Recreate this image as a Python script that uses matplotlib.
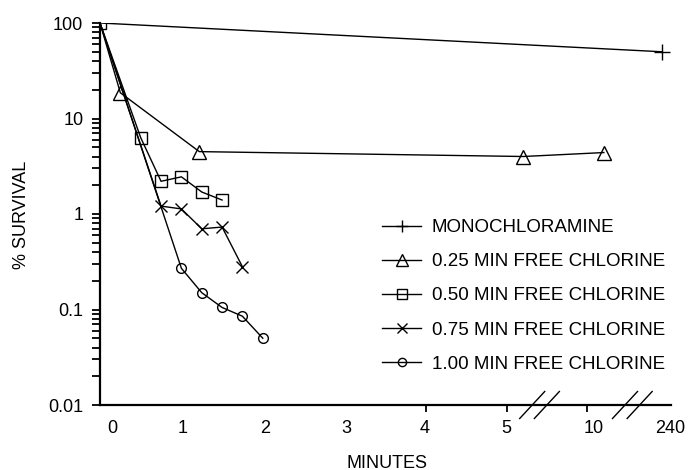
import numpy as np
import matplotlib.pyplot as plt
from matplotlib.ticker import LogLocator, NullFormatter, FixedLocator

plt.rcParams['font.family'] = ['Liberation Sans', 'DejaVu Sans']

# x values are positions on the broken time axis (0-5 linear minutes, then breaks)
mono_x = [0, 6.9]
mono_y = [100, 50]
c25_x = [0, 0.25, 1.22, 5.2, 6.19]
c25_y = [100, 18.6, 4.5, 4.0, 4.4]
c50_x = [0, 0.5, 0.75, 1.0, 1.25, 1.5]
c50_y = [100, 6.3, 2.2, 2.45, 1.7, 1.4]
c75_x = [0, 0.75, 1.0, 1.25, 1.5, 1.75]
c75_y = [100, 1.21, 1.13, 0.70, 0.73, 0.28]
c100_x = [0, 1.0, 1.25, 1.5, 1.75, 2.0]
c100_y = [100, 0.27, 0.15, 0.105, 0.085, 0.05]

labels = ['MONOCHLORAMINE', '0.25 MIN FREE CHLORINE', '0.50 MIN FREE CHLORINE',
          '0.75 MIN FREE CHLORINE', '1.00 MIN FREE CHLORINE']

xlabel_pos = [0.15, 1.02, 2.03, 3.03, 3.99, 4.99, 6.06, 7.01]
xlabel_txt = ['0', '1', '2', '3', '4', '5', '10', '240']
xtick_pos = [2.03, 4.0, 5.0, 5.98, 7.01]
break_pos = [5.31, 5.49, 6.45, 6.63]

fig = plt.figure(figsize=(6.88, 4.70), dpi=100)
ax = fig.add_axes([100/688, 65/470, 571.4/688, 382/470])

kw = dict(color='k', lw=1.0, mec='k', mfc='none', mew=1.0)
ax.plot(mono_x, mono_y, marker='+', ms=11, markevery=[1], label=labels[0], **kw)
ax.plot(c25_x, c25_y, marker='^', ms=10, markevery=list(range(1, len(c25_x))), label=labels[1], **kw)
ax.plot(c50_x, c50_y, marker='s', ms=9, label=labels[2], **kw)
ax.plot(c75_x, c75_y, marker='x', ms=8, markevery=list(range(1, len(c75_x))), label=labels[3], **kw)
ax.plot(c100_x, c100_y, marker='o', ms=7, markevery=list(range(1, len(c100_x))), label=labels[4], **kw)

ax.set_yscale('log')
ax.set_ylim(0.01, 100)
ax.set_xlim(0, 7.02)

ax.yaxis.set_minor_locator(LogLocator(base=10, subs=np.arange(2, 10), numticks=20))
ax.yaxis.set_minor_formatter(NullFormatter())
ax.set_yticks([0.01, 0.1, 1, 10, 100])
ax.set_yticklabels(['0.01', '0.1', '1', '10', '100'])
ax.tick_params(axis='y', which='both', direction='out', length=6, width=1.3, labelsize=13, pad=6)

ax.set_xticks(xlabel_pos)
ax.set_xticklabels(xlabel_txt)
ax.xaxis.set_minor_locator(FixedLocator(xtick_pos))
ax.tick_params(axis='x', which='major', length=0, labelsize=13, pad=11)
ax.tick_params(axis='x', which='minor', direction='out', length=5, width=1.3)

for s in ['top', 'right']:
    ax.spines[s].set_visible(False)
for s in ['left', 'bottom']:
    ax.spines[s].set_linewidth(1.6)

# axis break marks
dx = 12.5 / 571.4
dy = 13.5 / 382
for b in break_pos:
    xa = b / 7.02
    ax.plot([xa - dx, xa + dx], [-dy, dy], transform=ax.transAxes, color='k', lw=1.0, clip_on=False)

fig.text(387/688, 1 - 463/470, 'MINUTES', ha='center', va='center', fontsize=13)
fig.text(22/688, 1 - 215/470, '% SURVIVAL', ha='center', va='center', rotation=90, fontsize=13)

ax.legend(loc='upper left', bbox_to_anchor=(382/688, 1 - 219/470), bbox_transform=fig.transFigure,
          frameon=False, fontsize=13.5, handlelength=2.1, handletextpad=0.55, labelspacing=0.91,
          borderpad=0, borderaxespad=0, markerscale=0.85)

fig.savefig('out.png', dpi=100)
